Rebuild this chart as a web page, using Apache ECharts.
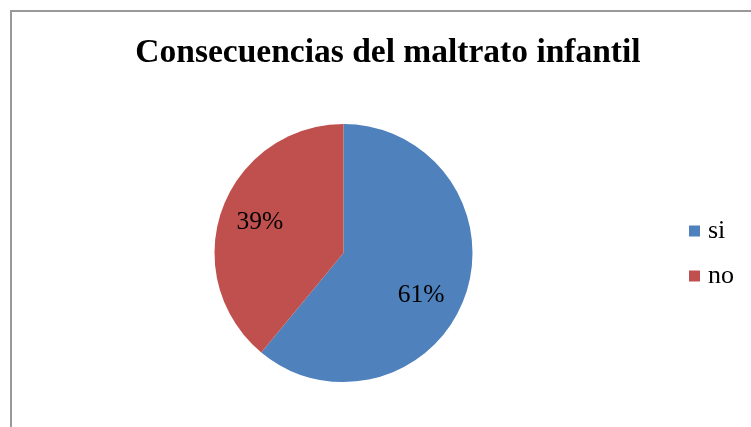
<!DOCTYPE html>
<html>
<head>
<meta charset="utf-8">
<script src="https://cdn.jsdelivr.net/npm/echarts@6/dist/echarts.min.js"></script>
<style>html,body{margin:0;padding:0;background:#fff;}#c{width:751px;height:427px;}</style>
</head>
<body>
<div id="c"></div>
<script>
var titleText = 'Consecuencias del maltrato infantil';
var categories = ['si', 'no'];
var values = [61, 39];
var colors = ['#4F81BD', '#C0504D'];

var chart = echarts.init(document.getElementById('c'), null, {renderer: 'canvas'});
var data = categories.map(function (c, i) { return {name: c, value: values[i], itemStyle: {color: colors[i]}}; });
var labelOffsets = [[-8, 11], [2, 0]];
chart.setOption({
  animation: false,
  backgroundColor: '#fff',
  graphic: [{
    type: 'rect', left: 10, top: 10, z: -1,
    shape: {width: 760, height: 430},
    style: {fill: '#fff', stroke: '#999', lineWidth: 2}
  }],
  title: {
    text: titleText, left: 383, top: 31, textAlign: 'center',
    textStyle: {fontFamily: 'Liberation Serif', fontWeight: 'bold', fontSize: 33.5, color: '#000'}
  },
  legend: {
    orient: 'vertical', left: 684, top: 213, itemWidth: 11, itemHeight: 11, itemGap: 19,
    icon: 'rect',
    textStyle: {fontFamily: 'Liberation Serif', fontSize: 26, color: '#000', padding: [0, 0, 0, 3]},
    data: categories
  },
  series: [{
    type: 'pie', center: [343.5, 253], radius: 129, startAngle: 90, clockwise: true,
    data: data, silent: true,
    label: {show: false}, labelLine: {show: false},
    itemStyle: {borderWidth: 0}
  }, {
    type: 'pie', center: [343.5, 253], radius: 176, startAngle: 90, clockwise: true,
    data: categories.map(function (c, i) {
      return {name: c, value: values[i], itemStyle: {color: 'rgba(0,0,0,0)'}, label: {offset: labelOffsets[i]}};
    }),
    silent: true, legendHoverLink: false,
    label: {show: true, position: 'inside', formatter: '{d}%', fontFamily: 'Liberation Serif', fontSize: 25.5, color: '#000'},
    labelLine: {show: false}
  }]
});
</script>
</body>
</html>
